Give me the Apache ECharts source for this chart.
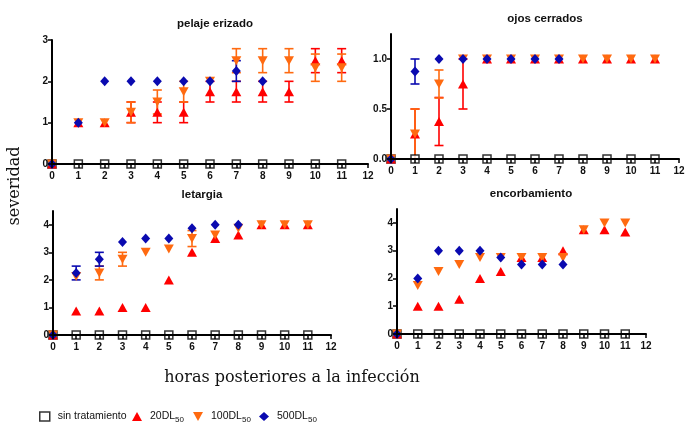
<!DOCTYPE html>
<html>
<head>
<meta charset="utf-8">
<script src="https://cdn.jsdelivr.net/npm/echarts@6/dist/echarts.min.js"></script>
<style>
  html, body { margin: 0; padding: 0; background: #fff; }
  #chart { width: 691px; height: 423px; }
</style>
</head>
<body>
<div id="chart"></div>
<script>
// Hours after infection (x positions of every group)
const hours = [0, 1, 2, 3, 4, 5, 6, 7, 8, 9, 10, 11];
const xTicks = [0, 1, 2, 3, 4, 5, 6, 7, 8, 9, 10, 11, 12];

const seriesNames = ['sin tratamiento', '20DL50', '100DL50', '500DL50'];
const panelTitles = ['pelaje erizado', 'ojos cerrados', 'letargia', 'encorbamiento'];
const xTitle = 'horas posteriores a la infección';
const yTitle = 'severidad';

// pelaje erizado (mean, error)
const ctrlPelaje = [0, 0, 0, 0, 0, 0, 0, 0, 0, 0, 0, 0];
const redPelaje = [0, 1, 1, 1.25, 1.25, 1.25, 1.75, 1.75, 1.75, 1.75, 2.5, 2.5];
const redPelajeErr = [0, 0, 0, 0.25, 0.25, 0.25, 0.25, 0.25, 0.25, 0.25, 0.29, 0.29];
const orangePelaje = [0, 1, 1, 1.25, 1.5, 1.75, 2, 2.5, 2.5, 2.5, 2.33, 2.33];
const orangePelajeErr = [0, 0, 0, 0.25, 0.29, 0.25, 0, 0.29, 0.29, 0.29, 0.33, 0.33];
const bluePelaje = [0, 1, 2, 2, 2, 2, 2, 2.25, 2, null, null, null];
const bluePelajeErr = [0, 0, 0, 0, 0, 0, 0, 0.25, 0, null, null, null];

// ojos cerrados
const ctrlOjos = [0, 0, 0, 0, 0, 0, 0, 0, 0, 0, 0, 0];
const redOjos = [0, 0.25, 0.375, 0.75, 1, 1, 1, 1, 1, 1, 1, 1];
const redOjosErr = [0, 0.25, 0.24, 0.25, 0, 0, 0, 0, 0, 0, 0, 0];
const orangeOjos = [0, 0.25, 0.75, 1, 1, 1, 1, 1, 1, 1, 1, 1];
const orangeOjosErr = [0, 0.25, 0.14, 0, 0, 0, 0, 0, 0, 0, 0, 0];
const blueOjos = [0, 0.875, 1, 1, 1, 1, 1, 1, null, null, null, null];
const blueOjosErr = [0, 0.125, 0, 0, 0, 0, 0, 0, null, null, null, null];

// letargia
const ctrlLetargia = [0, 0, 0, 0, 0, 0, 0, 0, 0, 0, 0, 0];
const redLetargia = [0, 0.875, 0.875, 1, 1, 2, 3, 3.5, 3.625, 4, 4, 4];
const redLetargiaErr = [0, 0, 0, 0, 0, 0, 0, 0, 0, 0, 0, 0];
const orangeLetargia = [0, 2.125, 2.25, 2.75, 3, 3.125, 3.5, 3.625, 3.875, 4, 4, 4];
const orangeLetargiaErr = [0, 0, 0.25, 0.25, 0, 0, 0.29, 0, 0, 0, 0, 0];
const blueLetargia = [0, 2.25, 2.75, 3.375, 3.5, 3.5, 3.875, 4, 4, null, null, null];
const blueLetargiaErr = [0, 0.25, 0.25, 0, 0, 0, 0, 0, 0, null, null, null];

// encorbamiento
const ctrlEncorb = [0, 0, 0, 0, 0, 0, 0, 0, 0, 0, 0, 0];
const redEncorb = [0, 1, 1, 1.25, 2, 2.25, 2.75, 2.75, 3, 3.75, 3.75, 3.67];
const redEncorbErr = [0, 0, 0, 0, 0, 0, 0, 0, 0, 0, 0, 0];
const orangeEncorb = [0, 1.75, 2.25, 2.5, 2.75, 2.75, 2.75, 2.75, 2.75, 3.75, 4, 4];
const orangeEncorbErr = [0, 0, 0, 0, 0, 0, 0, 0, 0, 0, 0, 0];
const blueEncorb = [0, 2, 3, 3, 3, 2.75, 2.5, 2.5, 2.5, null, null, null];
const blueEncorbErr = [0, 0, 0, 0, 0, 0, 0, 0, 0, null, null, null];

// y-axis ranges and tick values per panel
const yMax = [3, 1.25, 4.5, 4.5];
const yTicks = [[0, 1, 2, 3], [0, 0.5, 1.0], [0, 1, 2, 3, 4], [0, 1, 2, 3, 4]];
const yDecimals = [0, 1, 0, 0];

const panels = [
  { ctrl: ctrlPelaje, red: [redPelaje, redPelajeErr], orange: [orangePelaje, orangePelajeErr], blue: [bluePelaje, bluePelajeErr] },
  { ctrl: ctrlOjos, red: [redOjos, redOjosErr], orange: [orangeOjos, orangeOjosErr], blue: [blueOjos, blueOjosErr] },
  { ctrl: ctrlLetargia, red: [redLetargia, redLetargiaErr], orange: [orangeLetargia, orangeLetargiaErr], blue: [blueLetargia, blueLetargiaErr] },
  { ctrl: ctrlEncorb, red: [redEncorb, redEncorbErr], orange: [orangeEncorb, orangeEncorbErr], blue: [blueEncorb, blueEncorbErr] }
];

// ---- layout / style ----
const gridBoxes = [
  { left: 52, top: 40, width: 316, height: 124 },
  { left: 391, top: 34, width: 288, height: 125 },
  { left: 53, top: 211, width: 278, height: 124 },
  { left: 397, top: 209, width: 249, height: 125 }
];
const titlePos = [[210, 13], [540, 8], [197, 184], [526, 183]];

const RED = '#ff0000';
const ORANGE = '#ff6a10';
const BLUE = '#0a0ab0';
const SANS = 'Liberation Sans, Arial, sans-serif';
const SERIF = 'DejaVu Serif, serif';
const DOWN_TRI = 'path://M0,0L10,0L5,9Z';

function pairs(values) {
  const out = [];
  values.forEach((v, i) => { if (v !== null) out.push([hours[i], v]); });
  return out;
}
function triples(values, errs) {
  const out = [];
  values.forEach((v, i) => { if (v !== null && errs[i]) out.push([hours[i], v, errs[i]]); });
  return out;
}

// vertical error bar with caps, drawn in the coordinate system of its panel
function renderErrorBar(params, api) {
  const x = api.value(0), m = api.value(1), e = api.value(2);
  const top = api.coord([x, m + e]);
  const bot = api.coord([x, Math.max(0, m - e)]);
  const hw = 4.5;
  const style = { stroke: api.visual('color'), lineWidth: 1.6 };
  return {
    type: 'group',
    children: [
      { type: 'line', shape: { x1: top[0], y1: top[1], x2: bot[0], y2: bot[1] }, style },
      { type: 'line', shape: { x1: top[0] - hw, y1: top[1], x2: top[0] + hw, y2: top[1] }, style },
      { type: 'line', shape: { x1: bot[0] - hw, y1: bot[1], x2: bot[0] + hw, y2: bot[1] }, style }
    ]
  };
}

const grids = [], xAxes = [], yAxes = [], series = [], titles = [];

panels.forEach((p, g) => {
  grids.push(Object.assign({ containLabel: false }, gridBoxes[g]));
  titles.push({
    text: panelTitles[g], left: titlePos[g][0], top: titlePos[g][1], textAlign: 'center',
    textStyle: { fontFamily: SANS, fontSize: 11.5, fontWeight: 'bold', color: '#111' }
  });
  xAxes.push({
    type: 'value', gridIndex: g, min: 0, max: 12, interval: 1, z: 10,
    axisLine: { onZero: false, lineStyle: { color: '#000', width: 2 } },
    axisTick: { length: 4, lineStyle: { color: '#000', width: 1.5 } },
    axisLabel: {
      fontFamily: SANS, fontSize: 10, fontWeight: 'bold', color: '#111', margin: 7,
      customValues: xTicks
    },
    splitLine: { show: false }
  });
  yAxes.push({
    type: 'value', gridIndex: g, min: 0, max: yMax[g], z: 10,
    axisLine: { onZero: false, lineStyle: { color: '#000', width: 2 } },
    axisTick: { length: 4, lineStyle: { color: '#000', width: 1.5 }, customValues: yTicks[g] },
    axisLabel: {
      fontFamily: SANS, fontSize: 10, fontWeight: 'bold', color: '#111', margin: 4,
      customValues: yTicks[g],
      formatter: v => Number(v).toFixed(yDecimals[g])
    },
    splitLine: { show: false }
  });

  const groups = [
    { name: seriesNames[1], data: p.red, color: RED, symbol: 'triangle', size: [10, 9], z: 4 },
    { name: seriesNames[2], data: p.orange, color: ORANGE, symbol: DOWN_TRI, size: [10, 9], z: 5 },
    { name: seriesNames[3], data: p.blue, color: BLUE, symbol: 'diamond', size: [9, 10], z: 6 }
  ];
  groups.forEach(s => {
    series.push({
      type: 'custom', name: s.name, xAxisIndex: g, yAxisIndex: g, z: 2,
      itemStyle: { color: s.color },
      renderItem: renderErrorBar,
      data: triples(s.data[0], s.data[1]),
      silent: true
    });
  });
  series.push({
    type: 'scatter', name: seriesNames[0], xAxisIndex: g, yAxisIndex: g, z: 3,
    symbol: 'rect', symbolSize: [8, 8],
    itemStyle: { color: '#fff', borderColor: '#000', borderWidth: 1.5 },
    data: pairs(p.ctrl)
  });
  groups.forEach(s => {
    series.push({
      type: 'scatter', name: s.name, xAxisIndex: g, yAxisIndex: g, z: s.z,
      symbol: s.symbol, symbolSize: s.size,
      itemStyle: { color: s.color, opacity: 1 },
      data: pairs(s.data[0])
    });
  });
});

const legendIcons = [
  { icon: 'rect', itemStyle: { color: '#fff', borderColor: '#000', borderWidth: 1.5 }, left: 39, pad: 3 },
  { icon: 'triangle', itemStyle: { color: RED }, left: 132, pad: 3 },
  { icon: DOWN_TRI, itemStyle: { color: ORANGE }, left: 193, pad: 3 },
  { icon: 'diamond', itemStyle: { color: BLUE }, left: 259, pad: 3 }
];
const legends = seriesNames.map((name, i) => ({
  data: [{ name, icon: legendIcons[i].icon, itemStyle: legendIcons[i].itemStyle }],
  left: legendIcons[i].left, top: 411,
  itemWidth: 10, itemHeight: 9, padding: 0,
  selectedMode: false,
  formatter: n => n.replace(/DL50$/, 'DL{sub|50}'),
  textStyle: {
    fontFamily: SANS, fontSize: 10.5, color: '#111', padding: [0, 0, 0, legendIcons[i].pad],
    rich: { sub: { fontFamily: SANS, fontSize: 8, color: '#111', padding: [6, 0, 0, 0] } }
  }
}));

const chart = echarts.init(document.getElementById('chart'), null, { renderer: 'canvas' });
chart.setOption({
  animation: false,
  backgroundColor: '#fff',
  title: titles,
  grid: grids,
  xAxis: xAxes,
  yAxis: yAxes,
  legend: legends,
  series: series,
  graphic: [
    {
      type: 'text', x: 292, y: 378,
      style: { text: xTitle, font: '16px ' + SERIF, fill: '#111', textAlign: 'center', textVerticalAlign: 'middle' }
    },
    {
      type: 'text', x: 15, y: 186, rotation: Math.PI / 2,
      style: { text: yTitle, font: '16px ' + SERIF, fill: '#111', textAlign: 'center', textVerticalAlign: 'middle' }
    }
  ]
});
</script>
</body>
</html>
